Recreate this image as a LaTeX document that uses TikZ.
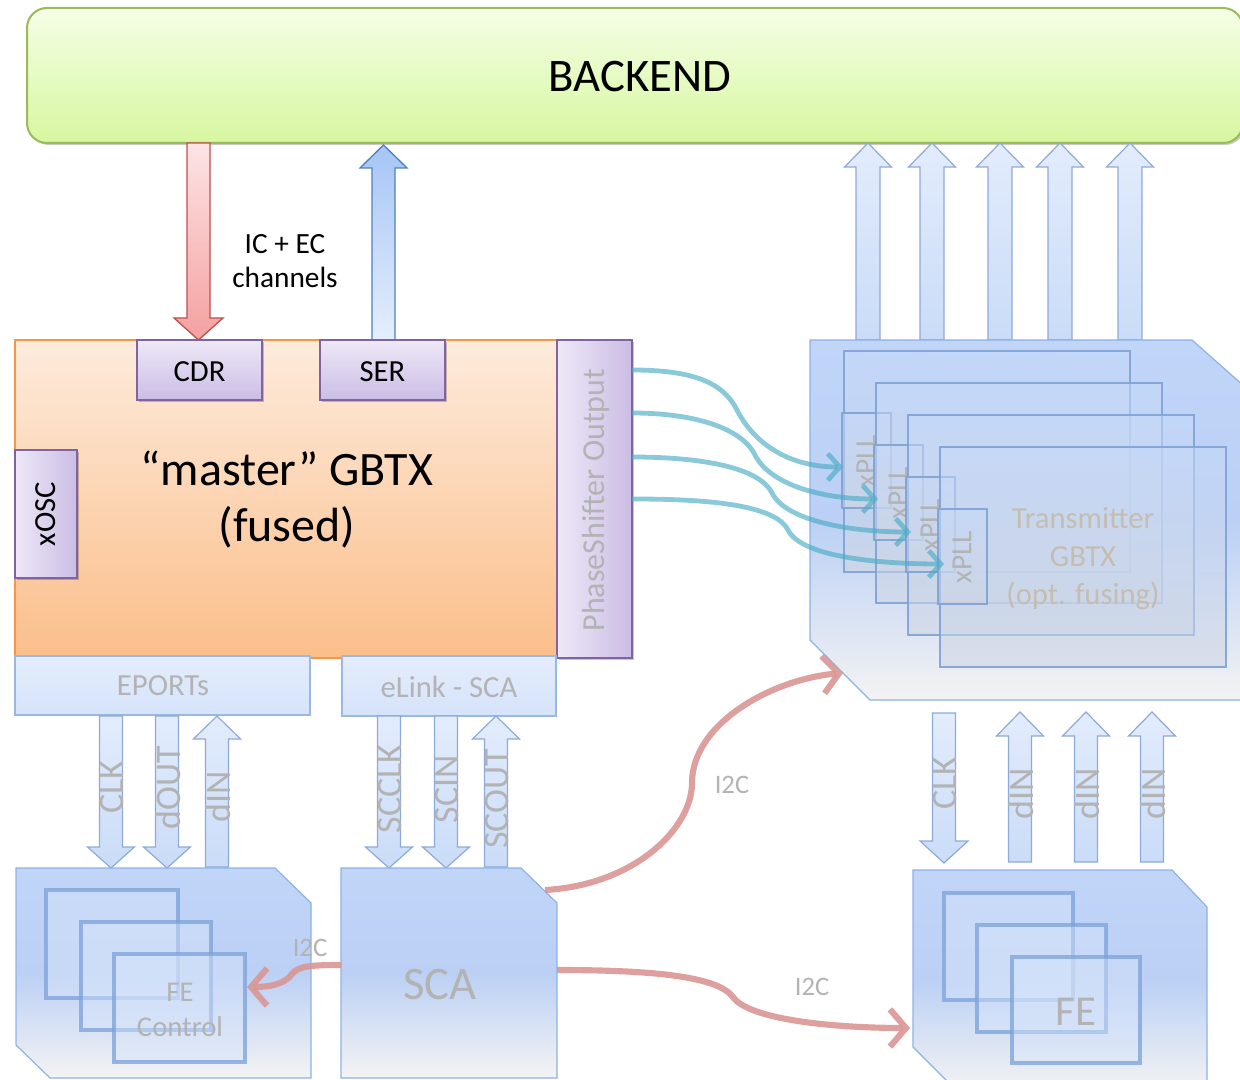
\documentclass[tikz,border=0pt]{standalone}
\usepackage{fontspec}
\setmainfont{Carlito}
\usetikzlibrary{arrows.meta,shadows}
\definecolor{bkTop}{HTML}{F5FEE6}
\definecolor{bkBot}{HTML}{D7F7A0}
\definecolor{bkBorder}{HTML}{9BBB59}
\definecolor{redTop}{HTML}{FDE4E4}
\definecolor{redBot}{HTML}{F4A0A0}
\definecolor{redBorder}{HTML}{C0504D}
\definecolor{serTop}{HTML}{A5C5F5}
\definecolor{serBot}{HTML}{E5EEFC}
\definecolor{serBorder}{HTML}{4F81BD}
\definecolor{orTop}{HTML}{FDEBDC}
\definecolor{orBot}{HTML}{FBBE8A}
\definecolor{orBorder}{HTML}{F79646}
\definecolor{puLight}{HTML}{EEE8F7}
\definecolor{puDark}{HTML}{CBBDE5}
\definecolor{puBorder}{HTML}{8064A2}
\definecolor{lbTop}{HTML}{E4EDFC}
\definecolor{lbBot}{HTML}{D5E3FA}
\definecolor{lbBorder}{HTML}{9AB8E0}
\definecolor{arTop}{HTML}{E2ECFC}
\definecolor{arBot}{HTML}{CADCF8}
\definecolor{arBorder}{HTML}{8EAAD8}
\definecolor{chTop}{HTML}{C0D5F8}
\definecolor{chMid}{HTML}{BBD0F4}
\definecolor{chBot}{HTML}{F3F3F3}
\definecolor{chBorder}{HTML}{8DB3E2}
\definecolor{inBorder}{HTML}{7FA2D4}
\definecolor{inTop}{HTML}{C6D9F9}
\definecolor{inBot}{HTML}{CDD5E3}
\definecolor{feBorder}{HTML}{7BA1D9}
\definecolor{feFill}{HTML}{D6E4FB}
\definecolor{tealc}{HTML}{4BACC6}
\definecolor{i2cc}{HTML}{D99694}
\definecolor{txtgray}{HTML}{B3B3B3}
\definecolor{trgray}{HTML}{C4BDB0}
\newcommand\blkarrow[7]{\path[#1] ({#2-#6},#3) -- ({#2-#6},#4) -- ({#2-#7},#4) -- (#2,#5) -- ({#2+#7},#4) -- ({#2+#6},#4) -- ({#2+#6},#3) -- cycle;}
\begin{document}
\begin{tikzpicture}[x=0.75pt,y=-0.75pt,
  shadowed/.style={drop shadow={shadow xshift=1.5pt,shadow yshift=-1.5pt,opacity=0.22,fill=black}},
  bkbox/.style={draw=bkBorder,line width=1.5pt,top color=bkTop,bottom color=bkBot,rounded corners=15pt,shadowed},
  redarr/.style={draw=redBorder,line width=1pt,top color=redTop,bottom color=redBot},
  serarr/.style={draw=serBorder,line width=1pt,top color=serTop,bottom color=serBot},
  blk/.style={draw=arBorder,line width=0.9pt,top color=arTop,bottom color=arBot},
  gbtx/.style={draw=orBorder,line width=1.2pt,top color=orTop,bottom color=orBot},
  pubox/.style={draw=puBorder,line width=1.1pt,top color=puLight,bottom color=puDark,shadowed},
  puvbox/.style={draw=puBorder,line width=1.1pt,left color=puLight,right color=puDark,shadowed},
  lbbox/.style={draw=lbBorder,line width=1pt,top color=lbTop,bottom color=lbBot},
  chip/.style={draw=chBorder,line width=0.9pt,top color=chTop,bottom color=chBot,middle color=chMid},
  inrect/.style={draw=inBorder,line width=1pt,top color=inTop,bottom color=inBot,fill opacity=0.55,draw opacity=0.9},
  ferect/.style={draw=feBorder,line width=3pt,fill=feFill,fill opacity=0.45,draw opacity=0.75},
  bigtxt/.style={font=\fontsize{35}{42}\selectfont},
  midtxt/.style={font=\fontsize{23}{28}\selectfont},
  armtxt/.style={font=\fontsize{27}{32}\selectfont,text=txtgray,rotate=90,inner sep=0pt},
  i2ctxt/.style={font=\fontsize{20}{24}\selectfont,text=txtgray},
  tealarr/.style={draw=tealc,draw opacity=0.65,line width=3.6pt,-{Straight Barb[length=9pt,width=20pt]}},
  i2carr/.style={draw=i2cc,draw opacity=0.9,line width=4.6pt,-{Straight Barb[length=12pt,width=28pt]}}
]
\useasboundingbox (0,0) rectangle (1240,1080);
\begin{scope}
\clip (0,0) rectangle (1240,1080);

% BACKEND
\path[bkbox] (27,8) rectangle (1243,143);
\node[bigtxt] (backend) at (640,77) {BACKEND};

% top arrows
\blkarrow{redarr}{198.5}{143}{318}{340}{11.5}{24.5}
\blkarrow{serarr}{383.5}{340}{168}{145}{11.5}{23.5}
\node[font=\fontsize{22}{26}\selectfont,align=center] (icec) at (285,261) {IC + EC\\channels};

\foreach \cx in {868,932,1000,1060,1130}{
  \blkarrow{blk}{\cx}{340}{167}{143}{12}{23.5}
}

% master GBTX
\path[gbtx] (15,340) rectangle (557,658);
\path[pubox] (137,340) rectangle (262,400);
\node[midtxt] (cdr) at (199.5,372) {CDR};
\path[pubox] (320,340) rectangle (445,400);
\node[midtxt] (ser) at (382.5,372) {SER};
\path[puvbox] (15,450) rectangle (77,578);
\node[midtxt,rotate=90] (xosc) at (46,514) {xOSC};
\node[font=\fontsize{36}{42}\selectfont,align=center] (master) at (287,500) {“master” GBTX\\(fused)};
\path[puvbox] (557,340) rectangle (632,658);
\node[font=\fontsize{24}{28}\selectfont,rotate=90,text=txtgray] (pso) at (596,500) {PhaseShifter Output};

\path[lbbox] (15,656) rectangle (310,715);
\node[midtxt,text=txtgray] (eports) at (163,686) {EPORTs};
\path[lbbox] (342,656) rectangle (556,716);
\node[midtxt,text=txtgray] (elink) at (449,687) {eLink - SCA};

% transmitter chip
\path[chip] (810,340) -- (1192,340) -- (1262,402) -- (1262,700) -- (870,700) -- (810,640) -- cycle;
\path[inrect] (844,351) rectangle (1130,572);
\path[inrect] (842,413) rectangle (891,508);
\node[font=\fontsize{22}{26}\selectfont,rotate=90,text=txtgray] (pll1) at (866,461) {xPLL};
\path[inrect] (876,383) rectangle (1162,603);
\path[inrect] (874,445) rectangle (923,540);
\node[font=\fontsize{22}{26}\selectfont,rotate=90,text=txtgray] (pll2) at (898,493) {xPLL};
\path[inrect] (908,415) rectangle (1194,635);
\path[inrect] (906,477) rectangle (955,572);
\node[font=\fontsize{22}{26}\selectfont,rotate=90,text=txtgray] (pll3) at (930,525) {xPLL};
\path[inrect] (940,447) rectangle (1226,667);
\path[inrect] (938,509) rectangle (987,604);
\node[font=\fontsize{22}{26}\selectfont,rotate=90,text=txtgray] (pll4) at (962,557) {xPLL};
\node[font=\fontsize{23}{28.5}\selectfont,align=center,text=trgray] (trans) at (1083,559) {Transmitter\\GBTX\\(opt. fusing)};

% phase shifter outputs
\coordinate (ps1) at (632,370); \coordinate (w1) at (737,410); \coordinate (t1) at (843,467);
\coordinate (ps2) at (632,413); \coordinate (w2) at (755,455); \coordinate (t2) at (878,499);
\coordinate (ps3) at (632,457); \coordinate (w3) at (772,493); \coordinate (t3) at (911,532);
\coordinate (ps4) at (632,499); \coordinate (w4) at (788,530); \coordinate (t4) at (944,564);
\foreach \i in {1,2,3,4}{
  \draw[tealarr] (ps\i) .. controls +(60,0) and +(-14,-28) .. (w\i) .. controls +(14,28) and +(-60,0) .. (t\i);
}

% EPORT arrows
\blkarrow{blk}{111}{716}{847}{868}{11.5}{23.5}
\blkarrow{blk}{167}{716}{847}{868}{11.5}{23.5}
\blkarrow{blk}{217}{867}{739}{716}{11.5}{23.5}
\blkarrow{blk}{389}{716}{847}{868}{11.5}{23.5}
\blkarrow{blk}{446}{716}{847}{868}{11.5}{23.5}
\blkarrow{blk}{496}{867}{739}{716}{11.5}{23.5}
\node[armtxt] (lclk) at (112,787) {CLK};
\node[armtxt] (ldout) at (168,788) {dOUT};
\node[armtxt] (ldin) at (218,797) {dIN};
\node[armtxt] (lscclk) at (390,789) {SCCLK};
\node[armtxt] (lscin) at (447,789) {SCIN};
\node[armtxt] (lscout) at (497,799) {SCOUT};

% FE arrows
\blkarrow{blk}{944}{713}{841}{863}{11.5}{24}
\blkarrow{blk}{1020}{862}{736}{712}{11.5}{23.5}
\blkarrow{blk}{1086}{862}{736}{712}{11.5}{23.5}
\blkarrow{blk}{1152}{862}{736}{712}{11.5}{23.5}
\node[armtxt] (rclk) at (945,783) {CLK};
\node[armtxt] (rdin1) at (1021,794) {dIN};
\node[armtxt] (rdin2) at (1087,794) {dIN};
\node[armtxt] (rdin3) at (1153,794) {dIN};

% FE control chip
\path[chip] (16,868) -- (275,868) -- (311,903) -- (311,1078) -- (50,1078) -- (16,1045) -- cycle;
\path[ferect] (46,890) rectangle (178,998);
\path[ferect] (81,922) rectangle (211,1030);
\path[ferect] (114,954) rectangle (245,1062);
\node[font=\fontsize{21.5}{26}\selectfont,align=center,text=txtgray] (fectl) at (180,1010) {FE\\Control};

% SCA chip
\path[chip] (341,868) -- (521,868) -- (557,903) -- (557,1078) -- (341,1078) -- cycle;
\node[font=\fontsize{35}{42}\selectfont,text=txtgray] (sca) at (440,985) {SCA};

% FE chip
\path[chip] (913,870) -- (1172,870) -- (1207,907) -- (1207,1090) -- (956,1090) -- (913,1047) -- cycle;
\path[ferect] (944,893) rectangle (1073,1000);
\path[ferect] (977,925) rectangle (1106,1032);
\path[ferect] (1012,957) rectangle (1140,1063);
\node[font=\fontsize{32}{38}\selectfont,text=txtgray] (fe) at (1076,1012) {FE};

% I2C links
\coordinate (scaup) at (545,890); \coordinate (iw1) at (692,783); \coordinate (trin) at (843,673);
\draw[i2carr] (scaup) .. controls +(90,-5) and +(0,45) .. (iw1) .. controls +(0,-60) and +(-70,6) .. (trin);
\node[i2ctxt] (i2c1) at (732,785) {I2C};
\coordinate (scar) at (557,970); \coordinate (iw2) at (733,997); \coordinate (fein) at (910,1028);
\draw[i2carr] (scar) .. controls +(100,0) and +(-15,-20) .. (iw2) .. controls +(15,22) and +(-80,0) .. (fein);
\node[i2ctxt] (i2c2) at (812,987) {I2C};
\coordinate (scal) at (341,965); \coordinate (iw3) at (292,974); \coordinate (fectin) at (247,987);
\draw[i2carr] (scal) .. controls +(-30,0) and +(6,-8) .. (iw3) .. controls +(-6,9) and +(25,0) .. (fectin);
\node[i2ctxt] (i2c3) at (310,948) {I2C};
\end{scope}
\end{tikzpicture}
\end{document}
